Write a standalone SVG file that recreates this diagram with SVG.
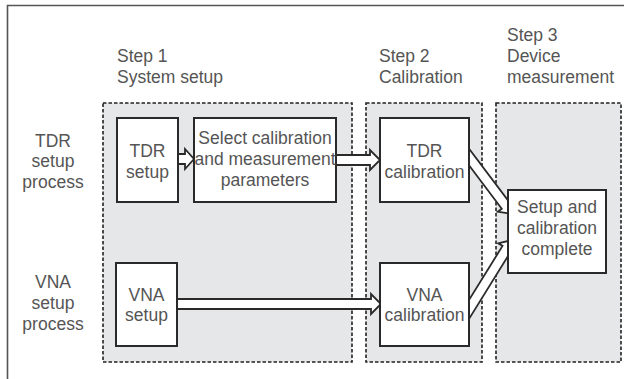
<svg xmlns="http://www.w3.org/2000/svg" width="624" height="379" viewBox="0 0 624 379">
<style>
.frame{fill:none;stroke:#555;stroke-width:1.6}
.panel{fill:#e6e7e8;stroke:#222;stroke-width:1.6;stroke-dasharray:3.5 2}
.box{fill:#fff;stroke:#2a2a2a;stroke-width:2}
.arr{fill:#fff;stroke:#2a2a2a;stroke-width:1.8;stroke-linejoin:miter}
text{font-family:"Liberation Sans",Arial,sans-serif;font-size:17.5px;fill:#555}
.c{text-anchor:middle}
</style>
<path class="frame" d="M7.5,380 V5.5 H625"/>
<g id="panels">
<rect class="panel" x="103" y="103" width="249" height="259"/>
<rect class="panel" x="366" y="103" width="116" height="259"/>
<rect class="panel" x="496" y="103" width="125" height="259"/>
</g>
<g id="step-labels">
<text x="117" y="62">Step 1</text>
<text x="117" y="83">System setup</text>
<text x="379" y="62">Step 2</text>
<text x="379" y="83">Calibration</text>
<text x="507" y="41">Step 3</text>
<text x="507" y="62">Device</text>
<text x="507" y="83">measurement</text>
</g>
<g id="row-labels">
<text class="c" x="53" y="147">TDR</text>
<text class="c" x="53" y="167">setup</text>
<text class="c" x="53" y="188">process</text>
<text class="c" x="53" y="288">VNA</text>
<text class="c" x="53" y="309">setup</text>
<text class="c" x="53" y="330">process</text>
</g>
<g id="connectors">
<polygon class="arr" transform="translate(170,159)" points="0,-5 15,-5 15,-10 24,0 15,10 15,5 0,5"/>
<polygon class="arr" transform="translate(330,160)" points="0,-5 40,-5 40,-10 50,0 40,10 40,5 0,5"/>
<polygon class="arr" transform="translate(170,304)" points="0,-5 201,-5 201,-10 211,0 201,10 201,5 0,5"/>
<polygon class="arr" transform="translate(460,145) rotate(53)" points="0,-5 76,-5 76,-10 86.4,0 76,10 76,5 0,5"/>
<polygon class="arr" transform="translate(460,324) rotate(-58.2)" points="0,-5 88.8,-5 88.8,-10 98.8,0 88.8,10 88.8,5 0,5"/>
</g>
<g id="tdr-setup">
<rect class="box" x="117" y="118" width="61" height="84"/>
<text class="c" x="147.5" y="157">TDR</text>
<text class="c" x="147.5" y="178">setup</text>
</g>
<g id="select-params">
<rect class="box" x="194" y="118" width="142" height="84"/>
<text class="c" x="265" y="144">Select calibration</text>
<text class="c" x="265" y="165">and measurement</text>
<text class="c" x="265" y="186">parameters</text>
</g>
<g id="tdr-calibration">
<rect class="box" x="380" y="118" width="89" height="84"/>
<text class="c" x="424.5" y="157">TDR</text>
<text class="c" x="424.5" y="178">calibration</text>
</g>
<g id="vna-setup">
<rect class="box" x="116" y="263" width="61" height="83"/>
<text class="c" x="146.5" y="301">VNA</text>
<text class="c" x="146.5" y="321">setup</text>
</g>
<g id="vna-calibration">
<rect class="box" x="380" y="263" width="89" height="83"/>
<text class="c" x="424.5" y="301">VNA</text>
<text class="c" x="424.5" y="321">calibration</text>
</g>
<g id="setup-complete">
<rect class="box" x="508" y="190" width="98" height="83"/>
<text class="c" x="557" y="213">Setup and</text>
<text class="c" x="557" y="234">calibration</text>
<text class="c" x="557" y="255">complete</text>
</g>
</svg>
